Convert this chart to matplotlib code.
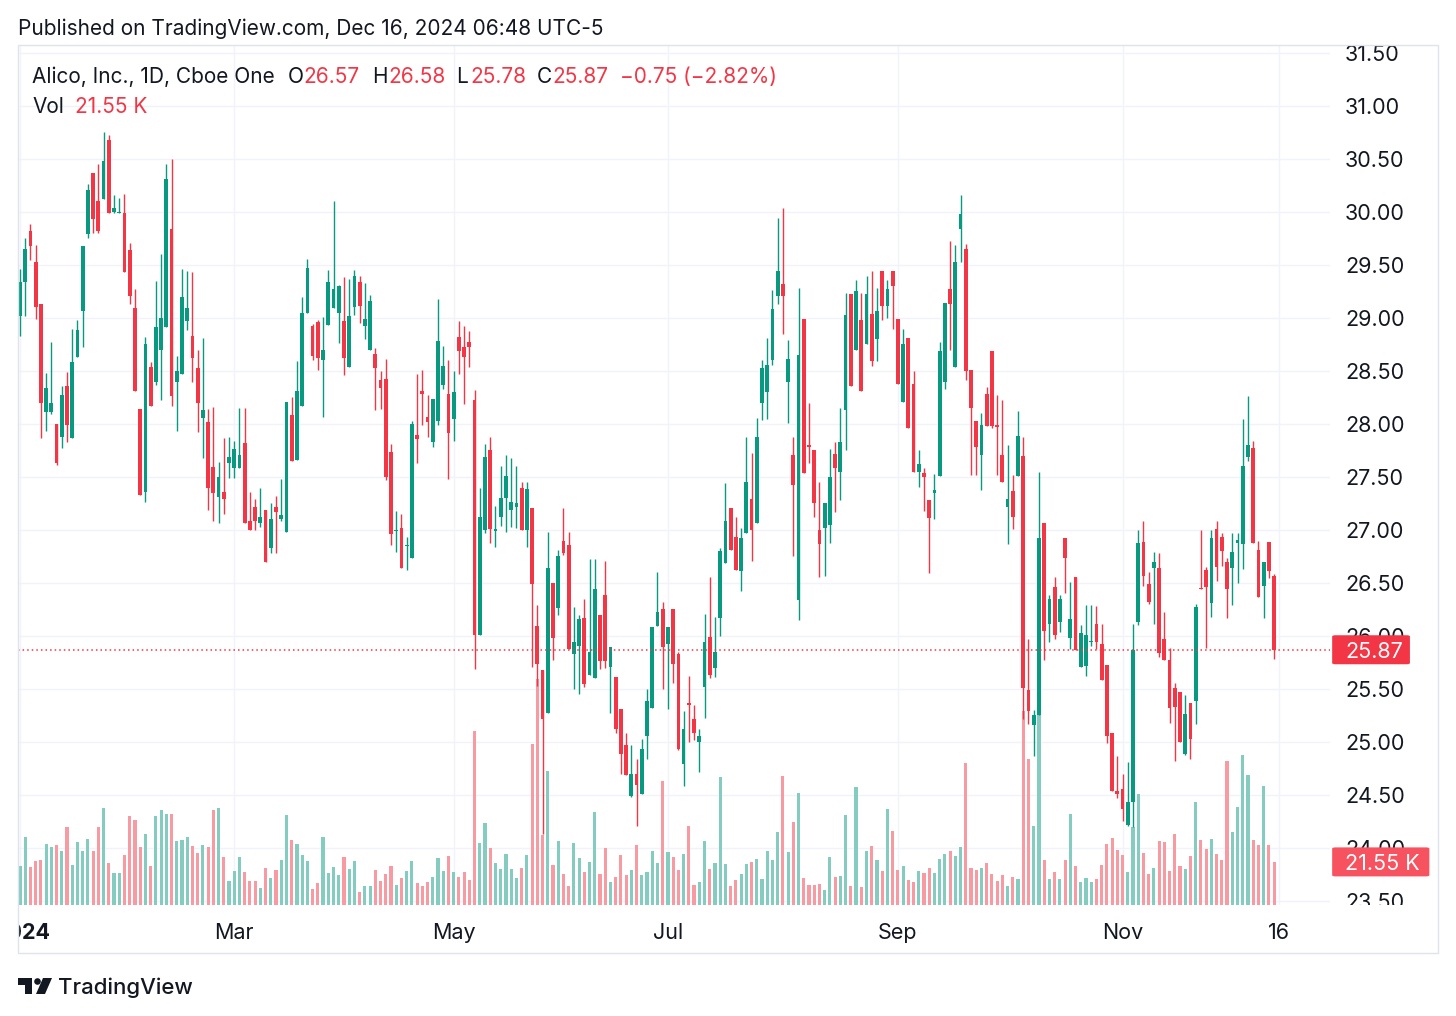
import matplotlib
matplotlib.use("Agg")
import matplotlib.pyplot as plt
import pandas as pd
from matplotlib.transforms import blended_transform_factory as blend
from matplotlib.patches import Polygon, Circle, Rectangle, FancyBboxPatch

# daily candles, Jan 2 - Dec 13 2024
opens = [
    29.02, 29.34, 29.82, 29.53, 29.13, 28.11, 28.11, 28.00, 27.88, 28.36,
    27.87, 28.63, 29.07, 29.79, 30.37, 30.10, 30.12, 30.68, 30.00, 29.99,
    29.99, 29.64, 29.09, 28.14, 27.36, 28.54, 28.40, 28.70, 28.91, 29.84,
    28.40, 28.47, 28.97, 28.83, 28.53, 28.06, 28.02, 27.59, 27.31, 27.36,
    27.63, 27.58, 27.58, 27.82, 27.08, 27.22, 27.07, 27.19, 26.83, 27.22,
    27.10, 26.98, 28.08, 27.66, 28.17, 29.05, 28.92, 28.96, 28.60, 28.93,
    29.09, 29.05, 28.97, 28.54, 29.10, 29.34, 28.92, 28.70, 28.66, 28.41,
    28.42, 27.74, 26.99, 27.02, 26.85, 26.74, 27.90, 28.31, 28.07, 27.83,
    28.03, 28.37, 28.28, 28.05, 28.82, 28.73, 28.77, 28.23, 26.01, 27.00,
    27.75, 26.99, 27.12, 27.30, 27.19, 27.22, 27.40, 27.00, 27.21, 26.09,
    25.68, 25.27, 26.50, 26.26, 26.90, 26.86, 25.83, 25.91, 26.17, 25.63,
    25.60, 26.20, 26.39, 25.71, 25.61, 25.31, 24.97, 24.49, 24.70, 24.51,
    25.06, 25.32, 26.09, 26.25, 25.92, 26.25, 25.83, 24.79, 25.37, 25.22,
    25.00, 25.52, 25.99, 25.70, 26.17, 26.69, 27.21, 26.93, 26.61, 26.97,
    27.29, 27.07, 28.20, 28.30, 28.60, 29.21, 29.32, 28.40, 27.71, 26.34,
    28.99, 27.80, 27.75, 27.00, 27.02, 27.05, 27.72, 27.55, 28.13, 29.23,
    28.70, 28.98, 28.75, 29.04, 28.80, 29.44, 29.11, 29.44, 28.99, 28.21,
    28.81, 28.38, 27.55, 27.54, 27.28, 27.35, 27.51, 28.40, 29.27, 28.54,
    29.84, 29.65, 28.51, 28.03, 27.71, 28.28, 28.69, 27.99, 27.71, 27.22,
    27.37, 27.51, 27.70, 25.49, 25.16, 25.25, 27.07, 26.11, 26.46, 26.13,
    26.92, 25.98, 26.56, 25.71, 25.72, 25.94, 26.11, 25.92, 25.73, 25.08,
    24.54, 24.56, 24.22, 24.43, 26.13, 26.89, 26.49, 26.64, 26.64, 25.97,
    25.77, 25.51, 25.47, 24.89, 25.37, 25.39, 26.45, 26.62, 26.31, 27.01,
    26.93, 26.70, 26.64, 26.88, 26.87, 27.69, 27.77, 26.81, 26.47, 26.89,
    26.57,
]
highs = [
    29.46, 29.75, 29.89, 29.69, 29.13, 28.48, 28.77, 28.00, 28.36, 28.49,
    28.90, 28.98, 29.68, 30.26, 30.37, 30.45, 30.75, 30.73, 30.16, 30.13,
    30.17, 29.71, 29.27, 28.14, 28.82, 28.58, 29.35, 29.60, 30.45, 30.50,
    28.64, 29.46, 29.44, 29.43, 28.70, 28.81, 28.14, 28.16, 27.64, 27.87,
    27.88, 27.84, 28.15, 28.15, 27.36, 27.29, 27.40, 27.19, 27.25, 27.32,
    27.48, 28.21, 28.25, 28.59, 29.20, 29.56, 28.94, 28.98, 29.01, 29.45,
    30.10, 29.31, 29.39, 29.37, 29.45, 29.40, 29.33, 29.22, 28.72, 28.50,
    28.61, 27.81, 27.18, 27.15, 26.93, 28.03, 28.47, 28.51, 28.27, 28.24,
    29.18, 28.74, 28.60, 28.50, 28.97, 28.92, 28.88, 28.32, 27.40, 27.81,
    27.88, 27.23, 27.60, 27.71, 27.68, 27.60, 27.45, 27.45, 27.21, 26.29,
    25.68, 26.98, 26.50, 26.81, 27.21, 26.98, 26.27, 26.20, 26.35, 26.73,
    26.73, 26.20, 26.71, 25.90, 25.61, 25.31, 25.08, 24.97, 24.84, 25.03,
    25.50, 26.08, 26.60, 26.32, 26.08, 26.25, 25.85, 25.29, 25.62, 25.35,
    25.12, 26.21, 26.56, 26.18, 26.83, 27.44, 27.21, 27.12, 27.02, 27.88,
    27.73, 28.06, 28.60, 28.81, 29.26, 29.94, 30.04, 28.79, 27.88, 29.28,
    28.99, 28.20, 27.75, 27.45, 27.25, 27.76, 27.83, 28.15, 29.24, 29.23,
    29.36, 29.24, 29.40, 29.44, 29.28, 29.44, 29.36, 29.44, 28.99, 28.90,
    28.81, 28.50, 27.75, 27.58, 27.28, 27.53, 28.77, 29.14, 29.73, 29.69,
    30.16, 29.70, 28.51, 28.03, 28.10, 28.35, 28.69, 28.27, 28.23, 27.80,
    27.52, 28.12, 27.88, 25.97, 25.30, 27.55, 27.07, 26.39, 26.56, 26.39,
    26.92, 26.51, 26.56, 26.10, 26.29, 26.29, 26.28, 26.11, 25.73, 25.08,
    24.87, 24.70, 24.81, 26.11, 27.00, 27.08, 26.60, 26.79, 26.78, 26.23,
    25.89, 25.56, 25.47, 25.44, 25.37, 26.30, 27.00, 26.65, 27.00, 27.08,
    26.97, 26.74, 26.97, 26.97, 28.05, 28.26, 27.84, 26.90, 26.70, 26.89,
    26.58,
]
lows = [
    28.83, 29.02, 29.55, 28.99, 27.87, 27.93, 28.09, 27.61, 27.77, 27.83,
    27.87, 28.63, 28.73, 29.75, 29.80, 29.80, 30.12, 29.99, 29.99, 29.99,
    29.43, 29.13, 28.31, 27.33, 27.26, 28.17, 28.37, 28.23, 28.91, 28.17,
    27.93, 28.47, 28.89, 28.40, 27.92, 27.68, 27.19, 27.08, 27.07, 27.15,
    27.49, 27.49, 27.58, 27.07, 27.00, 27.00, 27.03, 26.70, 26.78, 26.78,
    27.08, 26.98, 27.65, 27.66, 28.17, 29.05, 28.60, 28.51, 28.07, 28.93,
    29.09, 28.76, 28.46, 28.54, 29.03, 28.95, 28.80, 28.70, 28.13, 28.14,
    27.47, 26.86, 26.79, 26.64, 26.62, 26.74, 27.63, 27.99, 27.88, 27.78,
    27.99, 28.33, 27.48, 27.84, 28.47, 28.19, 28.54, 25.69, 26.01, 26.97,
    26.88, 26.84, 27.04, 26.98, 27.03, 27.02, 27.00, 26.84, 25.71, 25.53,
    24.13, 25.27, 25.77, 26.20, 26.76, 25.88, 25.50, 25.45, 25.52, 25.63,
    25.60, 25.69, 25.70, 25.27, 25.08, 24.70, 24.69, 24.48, 24.21, 24.51,
    24.84, 25.32, 26.09, 25.50, 25.31, 25.56, 24.92, 24.58, 25.00, 25.02,
    24.72, 25.23, 25.60, 25.61, 26.00, 26.69, 26.81, 26.62, 26.42, 26.97,
    26.71, 27.07, 28.04, 28.05, 28.56, 29.13, 28.85, 28.01, 26.75, 26.15,
    27.54, 27.63, 27.12, 26.56, 26.57, 26.88, 27.17, 27.28, 27.75, 28.36,
    28.70, 28.31, 28.75, 28.55, 28.59, 28.98, 29.00, 28.90, 28.38, 28.21,
    27.96, 27.55, 27.41, 27.18, 26.59, 27.10, 27.51, 28.33, 28.70, 28.54,
    29.53, 28.41, 27.52, 27.52, 27.38, 27.98, 27.96, 27.52, 27.45, 26.87,
    27.01, 27.51, 25.22, 25.17, 24.87, 25.25, 25.77, 25.94, 25.97, 26.04,
    26.41, 25.88, 25.87, 25.71, 25.62, 25.91, 25.88, 25.58, 24.99, 24.54,
    24.47, 24.25, 24.21, 24.20, 26.10, 26.47, 26.30, 26.11, 25.80, 25.77,
    25.18, 24.82, 25.00, 24.88, 24.84, 25.17, 26.44, 25.89, 26.18, 26.52,
    26.66, 26.17, 26.29, 26.50, 26.63, 27.65, 26.88, 26.37, 26.17, 26.55,
    25.78,
]
closes = [
    29.34, 29.65, 29.68, 29.10, 28.20, 28.34, 28.20, 27.63, 28.27, 27.99,
    28.58, 28.89, 29.68, 30.21, 29.93, 29.82, 30.48, 29.99, 30.04, 30.00,
    29.43, 29.21, 28.31, 27.33, 28.75, 28.17, 28.91, 29.00, 30.31, 28.26,
    28.50, 29.20, 29.09, 28.62, 28.20, 28.13, 27.40, 27.35, 27.50, 27.29,
    27.69, 27.76, 27.71, 27.07, 27.00, 27.08, 27.12, 26.70, 27.10, 27.17,
    27.14, 28.21, 27.65, 28.31, 29.05, 29.47, 28.64, 28.62, 28.70, 29.34,
    29.27, 29.30, 28.62, 29.02, 29.40, 29.11, 28.99, 29.16, 28.53, 28.34,
    27.50, 26.96, 27.00, 26.64, 26.86, 28.00, 27.86, 28.28, 28.02, 28.24,
    28.78, 28.55, 27.91, 28.30, 28.69, 28.63, 28.73, 26.01, 27.12, 27.69,
    27.01, 27.01, 27.30, 27.51, 27.26, 27.25, 27.00, 27.39, 26.49, 25.74,
    25.22, 26.64, 25.98, 26.75, 26.78, 25.88, 25.94, 26.16, 25.55, 25.85,
    26.44, 25.76, 25.76, 25.90, 25.12, 24.89, 24.69, 24.70, 24.59, 24.93,
    25.39, 26.08, 26.23, 25.90, 26.08, 25.74, 24.93, 25.12, 25.35, 25.08,
    25.06, 25.94, 25.63, 25.85, 26.80, 27.08, 26.81, 26.62, 26.92, 27.45,
    27.00, 27.88, 28.53, 28.56, 29.08, 29.44, 29.21, 28.61, 27.42, 28.65,
    27.54, 27.78, 27.25, 26.87, 27.25, 27.50, 27.58, 27.83, 29.03, 28.36,
    29.25, 28.31, 29.23, 28.59, 29.07, 29.11, 29.27, 29.30, 28.38, 28.75,
    27.96, 27.55, 27.62, 27.50, 27.11, 27.38, 28.69, 29.14, 29.13, 29.53,
    29.98, 28.50, 28.15, 27.78, 27.99, 27.98, 27.98, 27.97, 27.45, 27.29,
    27.12, 27.89, 25.51, 25.29, 25.25, 26.92, 26.05, 26.35, 26.01, 26.35,
    26.74, 26.16, 25.87, 26.03, 26.01, 25.95, 25.94, 25.58, 25.06, 24.54,
    24.51, 24.37, 24.43, 25.87, 26.88, 26.57, 26.32, 26.70, 25.84, 25.77,
    25.32, 25.33, 25.00, 25.26, 25.03, 26.27, 26.44, 26.46, 26.92, 26.65,
    26.80, 26.44, 26.79, 26.91, 27.60, 27.80, 26.88, 26.37, 26.70, 26.61,
    25.87,
]
# volume in thousands of shares
volumes = [
    19.4, 33.9, 19.1, 22.1, 22.6, 30.4, 29.1, 30.0, 27.0, 38.9,
    19.8, 31.4, 27.0, 32.8, 27.0, 38.9, 48.4, 20.8, 15.9, 15.9,
    25.1, 44.5, 42.4, 29.1, 35.7, 19.4, 44.5, 47.7, 45.4, 45.4,
    31.8, 32.3, 34.1, 29.5, 26.1, 30.0, 29.1, 47.7, 48.7, 24.0,
    11.8, 17.1, 24.0, 16.6, 11.8, 11.8, 8.7, 18.4, 13.4, 17.5,
    22.6, 44.9, 32.3, 30.4, 25.1, 22.1, 7.8, 10.9, 34.1, 15.9,
    19.1, 14.8, 24.0, 18.0, 22.1, 6.4, 9.5, 9.5, 17.5, 11.8,
    15.5, 19.4, 10.2, 13.4, 17.1, 22.1, 10.9, 9.4, 11.5, 13.8,
    23.3, 17.1, 24.5, 16.6, 14.0, 16.6, 12.4, 86.9, 30.9, 41.1,
    28.6, 20.8, 18.0, 25.4, 18.0, 13.4, 18.5, 25.1, 80.7, 112.8,
    35.0, 66.8, 19.8, 31.8, 15.5, 9.5, 30.9, 23.3, 16.6, 21.5,
    46.6, 15.5, 28.3, 11.5, 14.1, 25.1, 14.8, 17.5, 30.0, 15.2,
    16.6, 26.8, 20.8, 62.2, 26.3, 24.0, 17.7, 25.6, 39.7, 10.2,
    11.5, 31.8, 18.0, 21.2, 63.9, 20.3, 9.7, 12.4, 15.5, 20.3,
    21.5, 23.0, 12.9, 26.8, 22.3, 36.6, 64.5, 26.5, 41.7, 56.2,
    13.4, 10.2, 10.2, 10.6, 7.6, 24.0, 13.8, 14.5, 45.0, 9.5,
    59.0, 8.8, 26.8, 29.3, 22.6, 16.8, 48.2, 37.1, 17.3, 19.4,
    12.4, 11.5, 17.1, 15.9, 18.5, 16.2, 23.0, 25.6, 26.8, 24.5,
    29.1, 71.0, 18.5, 17.7, 18.5, 21.2, 15.5, 12.0, 15.2, 9.7,
    14.0, 12.9, 97.0, 72.8, 39.4, 98.9, 22.3, 12.9, 16.6, 12.9,
    22.3, 45.4, 19.4, 11.5, 13.4, 11.5, 12.9, 19.8, 30.6, 33.5,
    27.4, 25.1, 16.6, 38.9, 55.6, 26.1, 15.4, 18.5, 31.8, 31.3,
    17.1, 35.3, 19.4, 18.0, 24.4, 51.7, 32.5, 27.9, 32.8, 25.6,
    22.3, 72.1, 36.6, 49.1, 74.9, 64.8, 32.5, 30.0, 59.7, 30.0,
    21.55,
]

holidays = ["2024-01-01", "2024-01-15", "2024-02-19", "2024-03-29", "2024-05-27",
            "2024-06-19", "2024-07-04", "2024-09-02", "2024-11-28"]
dates = pd.bdate_range("2024-01-02", "2024-12-13", freq="C", holidays=holidays)
price_levels = [23.5 + 0.5 * k for k in range(17)]

GREEN = "#089981"
RED = "#f23645"
VOLTAG = "#f7525f"
VGREEN = "#84cbc0"
VRED = "#f79aa1"
GRID = "#f0f3fa"
TEXT = "#131722"

plt.rcParams["font.family"] = ["Inter", "DejaVu Sans"]

W, H = 1456, 1016
fig = plt.figure(figsize=(W / 100, H / 100), dpi=100)


def box(x0, y0, x1, y1):
    return [x0 / W, 1 - y1 / H, (x1 - x0) / W, (y1 - y0) / H]


def fx(x):
    return x / W


def fy(y):
    return 1 - y / H


# axis ticks: first session, first session of Mar/May/Jul/Sep/Nov, next session (Dec 16)
tick_idx = [0]
tick_lab = ["2024"]
for m, name in [(3, "Mar"), (5, "May"), (7, "Jul"), (9, "Sep"), (11, "Nov")]:
    tick_idx.append(int((dates.month == m).argmax()))
    tick_lab.append(name)
tick_idx.append(len(dates))
tick_lab.append("16")

n = len(closes)
idx = list(range(n))
up = [c >= o for o, c in zip(opens, closes)]
ccol = [GREEN if u else RED for u in up]
vcol = [VGREEN if u else VRED for u in up]

XLIM = (-0.38, 250.7)
YLIM = (23.462, 31.575)
VLIM = (0, 430)
FS = 15.5

# volume pane (bottom layer)
axv = fig.add_axes(box(18, 45, 1330, 905))
ax = fig.add_axes(box(18, 45, 1330, 905), sharex=axv)
ax.patch.set_visible(False)

gtrans = blend(axv.transAxes, ax.transData)
ax.set_ylim(*YLIM)
for p in price_levels:
    axv.plot([0, 1], [p, p], transform=gtrans, color=GRID, lw=1, zorder=0)
for t in tick_idx:
    axv.axvline(t, color=GRID, lw=1, zorder=0)
axv.bar(idx, volumes, width=0.6, color=vcol, zorder=2)
axv.set_ylim(*VLIM)
axv.axis("off")

# candles
body_bottom = [min(o, c) for o, c in zip(opens, closes)]
body_height = [max(abs(c - o), 0.012) for o, c in zip(opens, closes)]
ax.vlines(idx, lows, highs, colors=ccol, lw=1, zorder=3)
ax.bar(idx, body_height, bottom=body_bottom, width=0.72, color=ccol, zorder=4)
ax.axhline(closes[-1], color=RED, lw=1.1, ls=(0, (1, 2)), zorder=5)
ax.set_xlim(*XLIM)
ax.set_ylim(*YLIM)
ax.axis("off")

# price scale
axr = fig.add_axes(box(1330, 45, 1438, 905))
axr.set_xlim(0, 1)
axr.set_ylim(*YLIM)
axr.axis("off")
for p in price_levels:
    axr.text(0.14, p, f"{p:.2f}", ha="left", va="center_baseline", fontsize=FS,
             color=TEXT, clip_on=True)

# last price tag (29 px tall box)
ph = 14.5 * (YLIM[1] - YLIM[0]) / 860
ptrans = blend(axr.transAxes, axr.transData)
axr.add_patch(FancyBboxPatch((0.02, closes[-1] - ph), 0.72, 2 * ph, transform=ptrans,
                             boxstyle="round,pad=0,rounding_size=0.03",
                             mutation_aspect=ph / 0.03 * 0.08, fc=RED, ec="none", zorder=5,
                             clip_on=False))
axr.text(0.14, closes[-1], f"{closes[-1]:.2f}", ha="left", va="center_baseline",
         fontsize=FS, color="white", zorder=6)

# last volume tag
vh = 14.5 * (VLIM[1] - VLIM[0]) / 860
vtrans = blend(axr.transAxes, axv.transData)
axr.add_patch(FancyBboxPatch((0.02, volumes[-1] - vh), 0.9, 2 * vh, transform=vtrans,
                             boxstyle="round,pad=0,rounding_size=0.03",
                             mutation_aspect=vh / 0.03 * 0.08, fc=VOLTAG, ec="none", zorder=5,
                             clip_on=False))
axr.text(0.14, volumes[-1], f"{volumes[-1]:.2f} K", ha="left", va="center_baseline",
         fontsize=FS, color="white", transform=vtrans, zorder=6)

# time scale
axt = fig.add_axes(box(18, 905, 1330, 953))
axt.set_xlim(*XLIM)
axt.set_ylim(0, 1)
axt.axis("off")
for t, lab in zip(tick_idx, tick_lab):
    is_year = lab == "2024"
    axt.text(t + (0.6 if is_year else 0), 0.46, lab, ha="center", va="center_baseline",
             fontsize=FS, color=TEXT, fontweight="bold" if is_year else "normal",
             clip_on=True)

# outer frame
fig.add_artist(Rectangle((fx(18), fy(953)), (1438 - 18) / W, (953 - 45) / H,
                         fill=False, ec="#e0e3eb", lw=1, transform=fig.transFigure))

# header + legend
fig.text(fx(18), fy(27), "Published on TradingView.com, Dec 16, 2024 06:48 UTC-5",
         va="center_baseline", fontsize=15, color=TEXT)
fig.text(fx(32), fy(75), "Alico, Inc., 1D, Cboe One", va="center_baseline",
         fontsize=15, color=TEXT)
legend = [("O", 288), ("26.57", 303), ("H", 372), ("26.58", 388), ("L", 456),
          ("25.78", 470), ("C", 537), ("25.87", 552), ("\u22120.75 (\u22122.82%)", 620)]
for k, (s, x) in enumerate(legend):
    is_val = k % 2 == 1 or k == len(legend) - 1
    fig.text(fx(x), fy(75), s, va="center_baseline", fontsize=15,
             color=RED if is_val else TEXT)
fig.text(fx(32), fy(105), "Vol", va="center_baseline", fontsize=15, color=TEXT)
fig.text(fx(75), fy(105), "21.55 K", va="center_baseline", fontsize=15, color=RED)

# TradingView logo
axl = fig.add_axes(box(18, 976, 52, 996))
axl.set_xlim(0, 34)
axl.set_ylim(20, 0)
axl.axis("off")
axl.add_patch(Polygon([(0, 2), (14, 2), (14, 18), (7, 18), (7, 9), (0, 9)], fc=TEXT, ec="none"))
axl.add_patch(Circle((19.5, 5.5), 3.3, fc=TEXT, ec="none"))
axl.add_patch(Polygon([(25, 2), (34, 2), (27, 18), (18, 18)], fc=TEXT, ec="none"))
fig.text(fx(58), fy(986), "TradingView", va="center_baseline", fontsize=16, color=TEXT,
         fontweight="medium")

fig.savefig("out.png", dpi=100, facecolor="white")
